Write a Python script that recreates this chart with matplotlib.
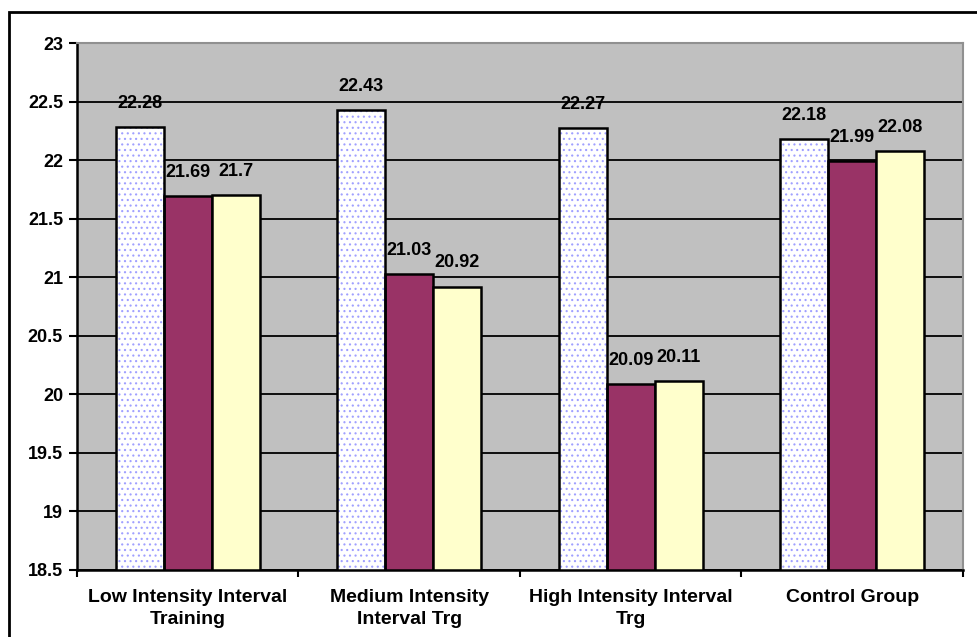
import matplotlib
matplotlib.use("Agg")
import matplotlib.pyplot as plt
import numpy as np
from matplotlib.patches import Rectangle

plt.rcParams['font.family'] = ['Liberation Sans', 'DejaVu Sans']
plt.rcParams['hatch.linewidth'] = 0.8

categories = ["Low Intensity Interval\nTraining", "Medium Intensity\nInterval Trg",
              "High Intensity Interval\nTrg", "Control Group"]
series_a = [22.28, 22.43, 22.27, 22.18]
series_b = [21.69, 21.03, 20.09, 21.99]
series_c = [21.70, 20.92, 20.11, 22.08]
y_ticks = [18.5, 19, 19.5, 20, 20.5, 21, 21.5, 22, 22.5, 23]

fig = plt.figure(figsize=(9.78, 6.37), dpi=100)
W, H = 978, 637
ax = fig.add_axes([77 / W, 1 - 570 / H, (963 - 77) / W, (570 - 43) / H])
ax.set_facecolor('#c0c0c0')

x = np.arange(len(categories))
bw = 0.217
base = 18.5
colors = ['white', '#993366', '#ffffcc']
for i, (vals, col) in enumerate(zip([series_a, series_b, series_c], colors)):
    xs = x + (i - 1) * bw
    heights = [v - base for v in vals]
    if i == 0:
        # dotted fill: hatch drawn in light blue, outline drawn on top
        ax.bar(xs, heights, bw, bottom=base, color='white', hatch='...',
               edgecolor='#a0a0ff', linewidth=0, zorder=3)
        ax.bar(xs, heights, bw, bottom=base, fill=False,
               edgecolor='black', linewidth=1.8, zorder=4)
    else:
        ax.bar(xs, heights, bw, bottom=base, color=col,
               edgecolor='black', linewidth=1.8, zorder=3)
    for xi, v in zip(xs, vals):
        ax.annotate(f"{v:g}", (xi, v), xytext=(0, 17), textcoords='offset points',
                    ha='center', va='center', fontsize=13, fontweight='bold',
                    color='black', zorder=5)

ax.set_ylim(18.5, 23)
ax.set_xlim(-0.5, 3.5)
ax.set_yticks(y_ticks)
ax.set_yticklabels([f"{t:g}" for t in y_ticks], fontsize=13, fontweight='bold')
ax.yaxis.grid(True, color='black', linewidth=1.3, zorder=0)
ax.set_axisbelow(True)

ax.set_xticks([])
ax.set_xticks([-0.5, 0.5, 1.5, 2.5, 3.5], minor=True)
ax.tick_params(axis='x', which='minor', length=5, width=1.5, direction='out', color='black')
ax.tick_params(axis='y', length=6, width=1.5, direction='out', pad=4)
for xi, lab in zip(x, categories):
    ax.text(xi, -0.036, lab, transform=ax.get_xaxis_transform(), ha='center', va='top',
            fontsize=14, fontweight='bold', linespacing=1.42)

for side in ['top', 'right']:
    ax.spines[side].set_color('#909090')
    ax.spines[side].set_linewidth(1.5)
for side in ['left', 'bottom']:
    ax.spines[side].set_color('black')
    ax.spines[side].set_linewidth(1.8)

# outer frame around the chart area
fig.patches.append(Rectangle((9 / W, -0.1), 1.2, 1.1 - 12 / H, transform=fig.transFigure,
                             fill=False, edgecolor='black', linewidth=2, zorder=10))

fig.savefig('out.png', dpi=100)
